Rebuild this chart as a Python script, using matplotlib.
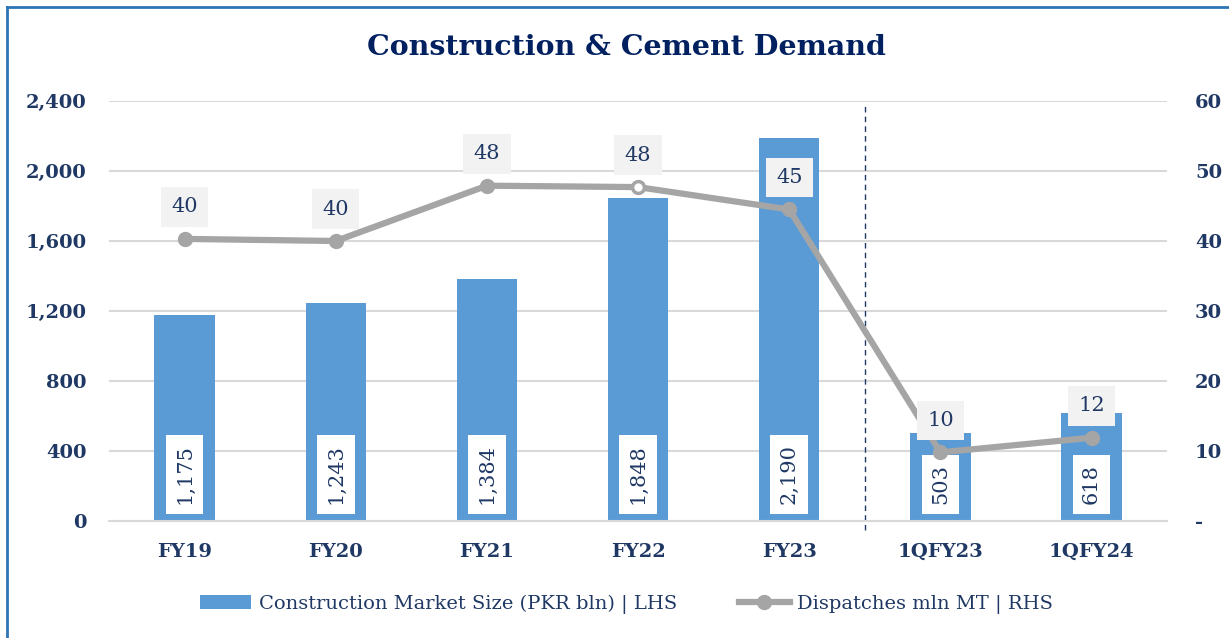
import matplotlib.pyplot as plt
from matplotlib.lines import Line2D

categories = ['FY19', 'FY20', 'FY21', 'FY22', 'FY23', '1QFY23', '1QFY24']
market_size = [1175, 1243, 1384, 1848, 2190, 503, 618]
dispatches = [40.3, 40.0, 47.9, 47.7, 44.5, 9.8, 11.9]
dispatch_labels = ['40', '40', '48', '48', '45', '10', '12']
hollow_idx = 3

navy = '#1F3864'
bar_col = '#5B9BD5'
line_col = '#A5A5A5'
grid_col = '#D9D9D9'

plt.rcParams['font.family'] = ['DejaVu Serif']

fig = plt.figure(figsize=(12.29, 6.38), dpi=100)
ax = fig.add_axes([0.0887, 0.1834, 0.861, 0.6583])
ax2 = ax.twinx()

x = list(range(len(categories)))

# bars (left axis)
bars = ax.bar(x, market_size, width=0.4, color=bar_col, zorder=2,
              label='Construction Market Size (PKR bln) | LHS')
for xi, v in zip(x, market_size):
    ax.annotate(f'{v:,}', (xi, 0), xytext=(0, 12), textcoords='offset points',
                rotation=90, ha='center', va='bottom', fontsize=15, color=navy,
                bbox=dict(boxstyle='square,pad=0.45', fc='white', ec='none'),
                zorder=3)

ax.set_xlim(-0.5, len(categories) - 0.5)
ax.set_ylim(0, 2400)
ax.set_yticks(range(0, 2401, 400))
ax.set_yticklabels([f'{t:,}' for t in range(0, 2401, 400)])
ax.set_xticks(x)
ax.set_xticklabels(categories)
ax.grid(axis='y', color=grid_col, linewidth=1.5, zorder=0)
ax.set_axisbelow(True)
for s in ['top', 'right', 'left']:
    ax.spines[s].set_visible(False)
ax.spines['bottom'].set_color(grid_col)
ax.spines['bottom'].set_linewidth(1.5)
ax.tick_params(axis='both', length=0, labelsize=14, labelcolor=navy)
ax.tick_params(axis='x', pad=16)
ax.tick_params(axis='y', pad=16)
for lbl in ax.get_xticklabels() + ax.get_yticklabels():
    lbl.set_fontweight('bold')

# dashed separator between annual and quarterly data
ax.axvline(4.5, ymin=-0.022, ymax=0.99, color=navy, linestyle=(0, (4, 3)),
           linewidth=1, clip_on=False, zorder=1)

# line (right axis)
ax2.plot(x, dispatches, color=line_col, linewidth=4.5, marker='o',
         markersize=10, zorder=4, label='Dispatches mln MT | RHS')
ax2.plot([x[hollow_idx]], [dispatches[hollow_idx]], marker='o', markersize=8,
         markerfacecolor='white', markeredgecolor=line_col, markeredgewidth=2,
         linestyle='none', zorder=5)
for xi, v, t in zip(x, dispatches, dispatch_labels):
    ax2.annotate(t, (xi, v), xytext=(0, 23), textcoords='offset points',
                 ha='center', va='center', fontsize=15, color=navy,
                 bbox=dict(boxstyle='square,pad=0.5', fc='#F2F2F2', ec='none'),
                 zorder=6)
ax2.set_ylim(0, 60)
ax2.set_yticks(range(0, 61, 10))
ax2.set_yticklabels(['-'] + [str(t) for t in range(10, 61, 10)])
ax2.tick_params(axis='y', length=0, labelsize=14, labelcolor=navy, pad=20)
for lbl in ax2.get_yticklabels():
    lbl.set_fontweight('bold')
for s in ax2.spines.values():
    s.set_visible(False)

fig.text(0.51, 0.925, 'Construction & Cement Demand', ha='center', va='center',
         fontsize=20.5, fontweight='bold', color='#002060')

handles = [bars, Line2D([], [], color=line_col, linewidth=4.5, marker='o',
                        markersize=10)]
leg = fig.legend(handles, ['Construction Market Size (PKR bln) | LHS',
                           'Dispatches mln MT | RHS'],
                 loc='center', bbox_to_anchor=(0.51, 0.053), ncol=2,
                 frameon=False, fontsize=14, handlelength=2.6,
                 columnspacing=3.2, handletextpad=0.4)
for t in leg.get_texts():
    t.set_color(navy)

# blue frame at left and top
fig.add_artist(Line2D([0.0057, 0.0057], [0, 0.989], color='#2E75B6', linewidth=2,
                      transform=fig.transFigure))
fig.add_artist(Line2D([0.0057, 1], [0.989, 0.989], color='#2E75B6', linewidth=2,
                      transform=fig.transFigure))

fig.savefig('out.png', dpi=100)
